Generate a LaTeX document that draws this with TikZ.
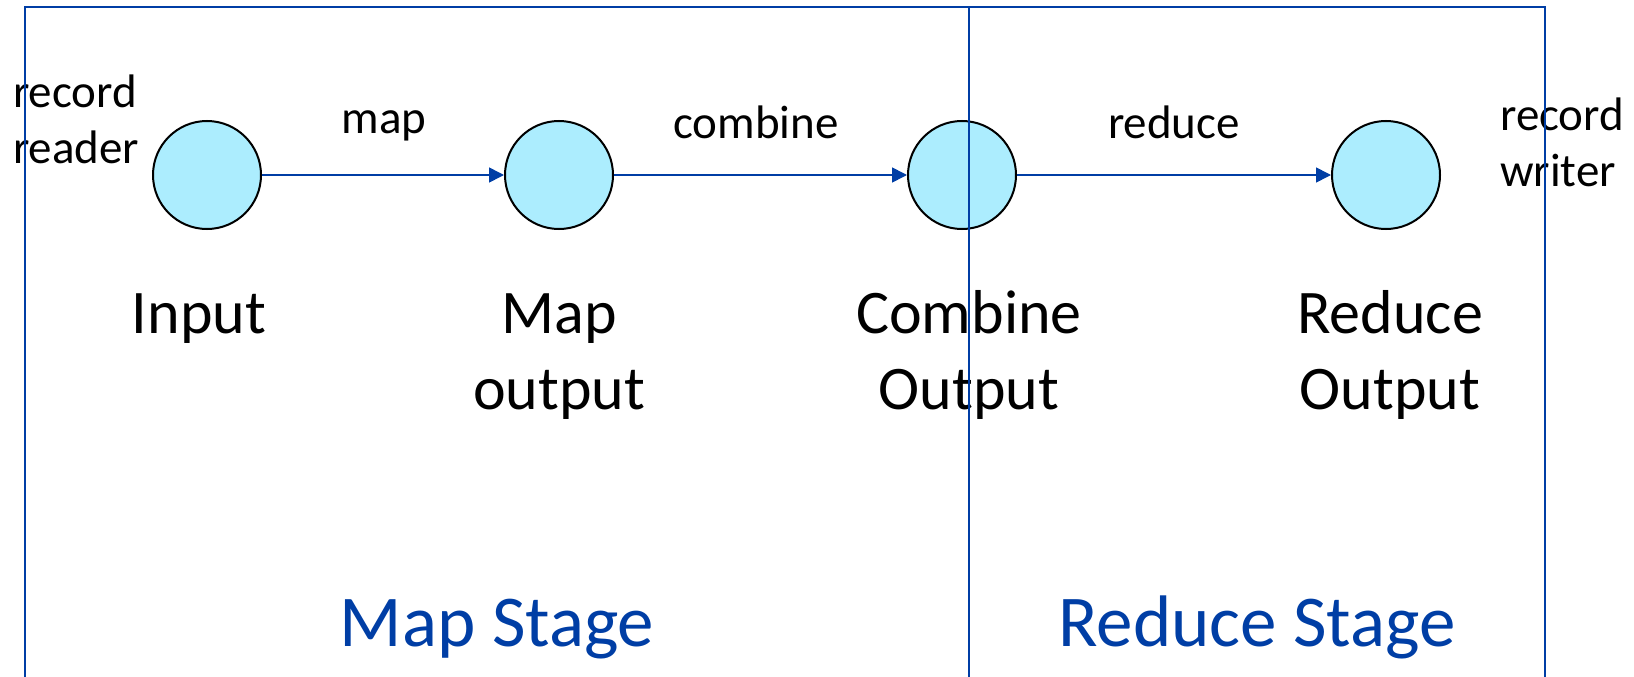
\documentclass[tikz,border=0pt]{standalone}
\usepackage{fontspec}
\setmainfont{Carlito}
\usetikzlibrary{arrows.meta}
\definecolor{stageblue}{RGB}{0,62,165}
\definecolor{bubble}{RGB}{172,237,254}
\tikzset{
  stagebox/.style={draw=stageblue, line width=2pt},
  proc/.style={circle, draw=black, line width=2pt, fill=bubble, minimum size=108pt, inner sep=0pt},
  flow/.style={draw=stageblue, line width=1.6pt, -{Triangle[length=15pt,width=15pt]}},
  smalltxt/.style={font=\fontsize{47}{56}\selectfont, inner sep=0pt, anchor=base},
  nodetxt/.style={font=\fontsize{62}{76}\selectfont, align=center, inner sep=0pt, anchor=base},
  stagetxt/.style={font=\fontsize{73}{88}\selectfont, text=stageblue, inner sep=0pt, anchor=base},
}
\begin{document}
\begin{tikzpicture}[x=1pt, y=-1pt]
\useasboundingbox (0,0) rectangle (1634,677);

% processing states
\node[proc] (in) at (207,175) {};
\node[proc] (mo) at (559,175) {};
\node[proc] (co) at (962,175) {};
\node[proc] (ro) at (1386,175) {};

% transitions
\draw[flow] (in) -- (mo);
\draw[flow] (mo) -- (co);
\draw[flow] (co) -- (ro);

% operation labels
\node[smalltxt] (lmap) at (384,133) {map};
\node[smalltxt] (lcomb) at (756,139) {combine};
\node[smalltxt] (lred) at (1174,139) {reduce};
\node[smalltxt, anchor=base west, align=left] (lread) at (13,163) {record\\reader};
\node[smalltxt, anchor=base west, align=left] (lwrite) at (1500,186) {record\\writer};

% state labels
\node[nodetxt] (tin) at (199,333) {Input};
\node[nodetxt] (tmo) at (559,409) {Map\\output};
\node[nodetxt] (tco) at (969,409) {Combine\\Output};
\node[nodetxt] (tro) at (1390,409) {Reduce\\Output};

% stage titles
\node[stagetxt] (smap) at (497,646) {Map Stage};
\node[stagetxt] (sred) at (1257,646) {Reduce Stage};

% stage frames
\draw[stagebox] (25,677) -- (25,7) -- (969,7) -- (969,677);
\draw[stagebox] (969,7) -- (1545,7) -- (1545,677);
\end{tikzpicture}
\end{document}
